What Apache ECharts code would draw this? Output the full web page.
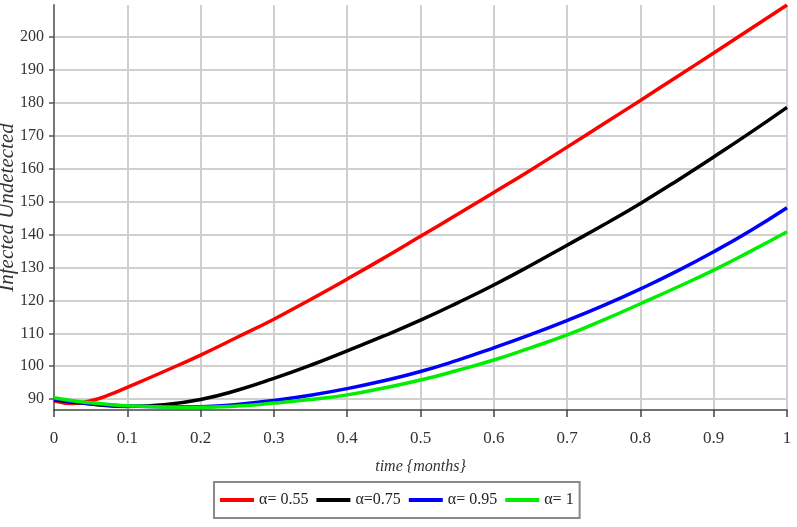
<!DOCTYPE html>
<html>
<head>
<meta charset="utf-8">
<script src="https://cdn.jsdelivr.net/npm/echarts@6/dist/echarts.min.js"></script>
<style>html,body{margin:0;padding:0;background:#fff;}#c{width:797px;height:527px;}</style>
</head>
<body>
<div id="c"></div>
<script>
var times    = [0, 0.025, 0.05, 0.075, 0.1, 0.15, 0.2, 0.25, 0.3, 0.35, 0.4, 0.45, 0.5, 0.55, 0.6, 0.65, 0.7, 0.75, 0.8, 0.85, 0.9, 0.95, 1.0];
var alpha055 = [89.5, 88.7, 89.5, 91.3, 93.6, 98.4, 103.4, 108.8, 114.3, 120.3, 126.5, 132.9, 139.5, 146.1, 152.8, 159.6, 166.6, 173.7, 180.8, 188.0, 195.2, 202.5, 209.8];
var alpha075 = [89.8, 89.1, 88.5, 88.0, 87.8, 88.3, 89.9, 92.7, 96.3, 100.3, 104.7, 109.2, 114.0, 119.2, 124.7, 130.6, 136.8, 143.0, 149.5, 156.4, 163.6, 171.0, 178.7];
var alpha095 = [90.0, 89.2, 88.6, 88.2, 87.9, 87.7, 87.7, 88.4, 89.6, 91.2, 93.2, 95.6, 98.4, 101.8, 105.6, 109.6, 113.9, 118.5, 123.5, 128.9, 134.8, 141.2, 148.2];
var alpha1   = [90.4, 89.5, 88.9, 88.4, 88.0, 87.6, 87.5, 87.9, 88.8, 89.9, 91.3, 93.4, 95.8, 98.7, 101.9, 105.6, 109.5, 114.1, 119.0, 124.0, 129.2, 134.9, 140.9];
var yTicks = [90, 100, 110, 120, 130, 140, 150, 160, 170, 180, 190, 200];
var seriesNames = ['\u03b1= 0.55', '\u03b1=0.75', '\u03b1= 0.95', '\u03b1= 1'];
var seriesColors = ['#ff0000', '#000000', '#0000ff', '#00ee00'];
var seriesValues = [alpha055, alpha075, alpha095, alpha1];

function pairs(vals) { return times.map(function (t, i) { return [t, vals[i]]; }); }

var chart = echarts.init(document.getElementById('c'), null, {renderer: 'canvas'});
var font = '"Liberation Serif", "Times New Roman", serif';
chart.setOption({
  animation: false,
  backgroundColor: '#fff',
  grid: {left: 54, right: 10, top: 5, bottom: 117, containLabel: false, outerBoundsMode: 'none'},
  legend: {
    left: 214, top: 482,
    data: seriesNames.map(function (n) { return {name: n, icon: 'rect'}; }),
    itemWidth: 34, itemHeight: 4, itemGap: 8,
    padding: [10, 6, 10, 6],
    borderColor: '#8a8a8a', borderWidth: 2,
    textStyle: {fontFamily: font, fontSize: 16, color: '#222'}
  },
  xAxis: {
    type: 'value', min: 0, max: 1, interval: 0.1,
    name: 'time {months}', nameLocation: 'middle', nameGap: 49, nameMoveOverlap: false,
    nameTextStyle: {fontFamily: font, fontStyle: 'italic', fontSize: 16, color: '#333'},
    axisLine: {show: true, onZero: false, lineStyle: {color: '#444', width: 1.5}},
    axisTick: {show: true, length: 7, lineStyle: {color: '#444', width: 1.5}},
    axisLabel: {fontFamily: font, fontSize: 17, color: '#333', margin: 20,
      formatter: function (v) { return String(Math.round(v * 10) / 10); }},
    splitLine: {show: true, lineStyle: {color: '#cfcfcf', width: 2}}
  },
  yAxis: {
    type: 'value', min: 86.7, max: 209.8,
    name: 'Infected Undetected', nameLocation: 'middle', nameGap: 36, nameMoveOverlap: false,
    nameTextStyle: {fontFamily: font, fontStyle: 'italic', fontSize: 21, color: '#333'},
    axisLine: {show: true, lineStyle: {color: '#777', width: 2}},
    axisTick: {show: true, length: 5, customValues: yTicks, lineStyle: {color: '#555', width: 1.5}},
    axisLabel: {fontFamily: font, fontSize: 16, color: '#333', margin: 10, customValues: yTicks},
    splitLine: {show: true, lineStyle: {color: '#cfcfcf', width: 2}}
  },
  series: seriesValues.map(function (vals, i) {
    return {
      name: seriesNames[i], type: 'line', data: pairs(vals), smooth: true,
      showSymbol: false, color: seriesColors[i],
      lineStyle: {width: 3.5, color: seriesColors[i]}
    };
  })
});
</script>
</body>
</html>
